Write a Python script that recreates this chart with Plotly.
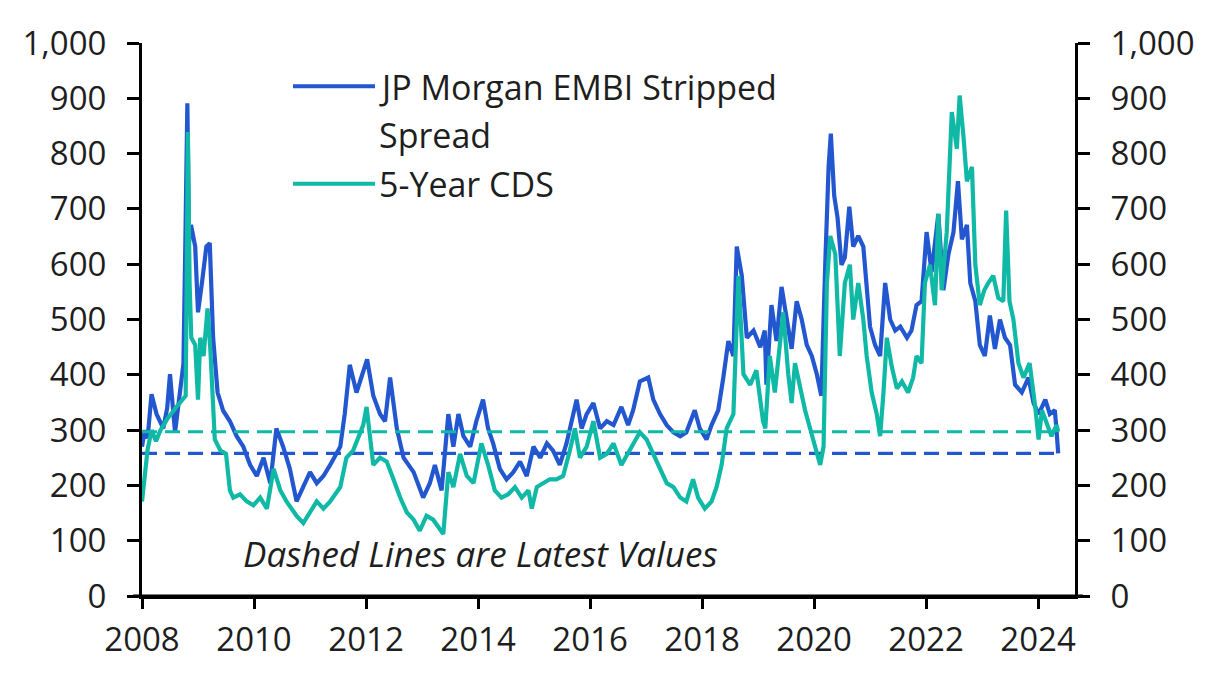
import plotly.graph_objects as go

# ---------------- data ----------------
embi_years = [
    2008.00, 2008.05, 2008.10, 2008.17, 2008.26, 2008.38, 2008.45, 2008.50, 2008.59, 2008.68,
    2008.74, 2008.77, 2008.81, 2008.84, 2008.875, 2008.95, 2009.00, 2009.07, 2009.15, 2009.21,
    2009.27, 2009.35, 2009.45, 2009.57, 2009.69, 2009.81, 2009.93, 2010.05, 2010.17, 2010.29,
    2010.40, 2010.52, 2010.64, 2010.76, 2010.88, 2011.00, 2011.12, 2011.24, 2011.36, 2011.54,
    2011.62, 2011.71, 2011.83, 2011.92, 2012.02, 2012.13, 2012.25, 2012.34, 2012.43, 2012.55,
    2012.67, 2012.85, 2013.02, 2013.14, 2013.23, 2013.35, 2013.47, 2013.56, 2013.65, 2013.74,
    2013.86, 2013.97, 2014.09, 2014.18, 2014.27, 2014.39, 2014.51, 2014.63, 2014.75, 2014.87,
    2014.99, 2015.11, 2015.23, 2015.34, 2015.46, 2015.58, 2015.67, 2015.76, 2015.85, 2015.94,
    2016.06, 2016.18, 2016.30, 2016.42, 2016.56, 2016.68, 2016.77, 2016.89, 2017.04, 2017.13,
    2017.25, 2017.37, 2017.49, 2017.61, 2017.72, 2017.87, 2017.96, 2018.08, 2018.17, 2018.29,
    2018.38, 2018.47, 2018.56, 2018.62, 2018.71, 2018.80, 2018.92, 2019.04, 2019.12, 2019.15,
    2019.24, 2019.33, 2019.42, 2019.51, 2019.60, 2019.69, 2019.78, 2019.87, 2019.96, 2020.05,
    2020.13, 2020.20, 2020.26, 2020.30, 2020.36, 2020.42, 2020.49, 2020.55, 2020.63, 2020.70,
    2020.79, 2020.88, 2020.94, 2021.00, 2021.09, 2021.18, 2021.27, 2021.36, 2021.45, 2021.54,
    2021.66, 2021.74, 2021.83, 2021.92, 2022.01, 2022.10, 2022.22, 2022.31, 2022.40, 2022.49,
    2022.57, 2022.64, 2022.73, 2022.79, 2022.88, 2022.96, 2023.05, 2023.14, 2023.23, 2023.32,
    2023.41, 2023.50, 2023.59, 2023.71, 2023.83, 2023.92, 2024.01, 2024.13, 2024.21, 2024.30,
    2024.33, 2024.36,
]
embi_spread = [
    270, 300, 285, 365, 329, 303, 340, 401, 296, 368,
    420, 612, 891, 640, 671, 632, 513, 566, 632, 638,
    467, 368, 335, 316, 289, 270, 237, 217, 250, 204,
    303, 270, 230, 171, 197, 224, 204, 217, 237, 270,
    329, 418, 368, 395, 428, 362, 329, 316, 395, 303,
    250, 224, 178, 204, 237, 191, 329, 270, 329, 289,
    270, 316, 355, 303, 276, 230, 211, 224, 243, 217,
    270, 250, 276, 263, 237, 276, 316, 355, 303, 329,
    349, 303, 316, 309, 342, 309, 336, 388, 395, 355,
    329, 309, 296, 289, 296, 336, 303, 283, 309, 336,
    395, 461, 434, 632, 579, 467, 480, 450, 480, 382,
    526, 461, 559, 500, 447, 533, 500, 454, 434, 401,
    362, 599, 776, 836, 724, 684, 599, 612, 704, 632,
    651, 632, 566, 487, 454, 434, 566, 500, 480, 487,
    467, 480, 526, 533, 658, 586, 691, 553, 618, 658,
    750, 645, 671, 566, 533, 454, 434, 507, 447, 500,
    467, 454, 382, 368, 395, 349, 329, 355, 329, 336,
    300, 258,
]

cds_years = [
    2008.00, 2008.05, 2008.10, 2008.17, 2008.25, 2008.33, 2008.45, 2008.60, 2008.78, 2008.80,
    2008.82, 2008.85, 2008.88, 2008.95, 2009.00, 2009.04, 2009.10, 2009.17, 2009.22, 2009.30,
    2009.40, 2009.50, 2009.57, 2009.63, 2009.75, 2009.87, 2009.99, 2010.11, 2010.23, 2010.35,
    2010.47, 2010.58, 2010.76, 2010.88, 2011.00, 2011.12, 2011.24, 2011.36, 2011.54, 2011.65,
    2011.77, 2011.95, 2012.01, 2012.13, 2012.25, 2012.37, 2012.49, 2012.61, 2012.73, 2012.85,
    2012.96, 2013.08, 2013.20, 2013.30, 2013.38, 2013.47, 2013.56, 2013.68, 2013.80, 2013.92,
    2014.06, 2014.18, 2014.30, 2014.42, 2014.54, 2014.66, 2014.78, 2014.90, 2014.96, 2015.05,
    2015.17, 2015.28, 2015.40, 2015.52, 2015.64, 2015.73, 2015.82, 2015.94, 2016.06, 2016.18,
    2016.30, 2016.42, 2016.56, 2016.71, 2016.89, 2017.01, 2017.13, 2017.25, 2017.37, 2017.49,
    2017.61, 2017.72, 2017.84, 2017.93, 2018.05, 2018.17, 2018.26, 2018.35, 2018.44, 2018.56,
    2018.65, 2018.74, 2018.86, 2018.97, 2019.09, 2019.13, 2019.21, 2019.30, 2019.39, 2019.45,
    2019.54, 2019.60, 2019.66, 2019.75, 2019.84, 2019.93, 2020.02, 2020.11, 2020.17, 2020.23,
    2020.29, 2020.38, 2020.46, 2020.55, 2020.64, 2020.70, 2020.79, 2020.88, 2020.94, 2021.03,
    2021.12, 2021.18, 2021.24, 2021.30, 2021.39, 2021.48, 2021.57, 2021.68, 2021.77, 2021.83,
    2021.92, 2021.98, 2022.07, 2022.16, 2022.22, 2022.28, 2022.37, 2022.46, 2022.55, 2022.60,
    2022.67, 2022.73, 2022.82, 2022.88, 2022.96, 2023.04, 2023.11, 2023.20, 2023.29, 2023.38,
    2023.43, 2023.49, 2023.56, 2023.65, 2023.74, 2023.85, 2023.95, 2024.01, 2024.07, 2024.15,
    2024.24, 2024.33, 2024.36,
]
cds_5y = [
    171, 215, 265, 300, 280, 300, 320, 340, 362, 600,
    839, 566, 467, 454, 355, 467, 434, 520, 447, 283,
    263, 257, 191, 178, 184, 171, 164, 178, 158, 230,
    191, 171, 145, 132, 151, 171, 158, 171, 197, 250,
    263, 309, 342, 237, 250, 243, 211, 178, 151, 138,
    118, 145, 138, 125, 112, 224, 197, 257, 217, 204,
    276, 237, 191, 178, 184, 197, 178, 191, 158, 197,
    204, 211, 211, 217, 263, 303, 250, 270, 316, 250,
    257, 276, 237, 263, 296, 283, 257, 230, 204, 197,
    178, 171, 211, 178, 158, 171, 197, 237, 303, 329,
    579, 401, 382, 408, 316, 303, 434, 368, 461, 513,
    401, 349, 421, 375, 336, 303, 270, 237, 270, 566,
    651, 618, 434, 566, 599, 500, 566, 500, 434, 368,
    329, 289, 368, 467, 414, 375, 388, 368, 395, 434,
    421, 566, 599, 526, 691, 553, 658, 875, 809, 905,
    829, 750, 776, 599, 526, 553, 566, 579, 539, 533,
    697, 533, 500, 421, 395, 421, 342, 283, 336, 316,
    289, 309, 297,
]

x_tick_values = [2008, 2010, 2012, 2014, 2016, 2018, 2020, 2022, 2024]
y_tick_values = [0, 100, 200, 300, 400, 500, 600, 700, 800, 900, 1000]
embi_label = ["JP Morgan EMBI Stripped", "Spread"]
cds_label = "5-Year CDS"
note_text = "Dashed Lines are Latest Values"

# ---------------- style ----------------
BLUE = "#2257CF"
TEAL = "#10B8A6"
FONT = "Open Sans"
TXT = "#1e1e1e"

fig = go.Figure()
fig.add_trace(go.Scatter(x=embi_years, y=embi_spread, mode="lines",
                         name=" ".join(embi_label), showlegend=False,
                         line=dict(color=BLUE, width=4.2)))
fig.add_trace(go.Scatter(x=cds_years, y=cds_5y, mode="lines", yaxis="y2",
                         name=cds_label, showlegend=False,
                         line=dict(color=TEAL, width=4.2)))
# latest-value dashed lines
fig.add_trace(go.Scatter(x=[embi_years[0], embi_years[-1]], y=[embi_spread[-1]] * 2,
                         mode="lines", showlegend=False,
                         line=dict(color=BLUE, width=3.2, dash="15px,8px")))
fig.add_trace(go.Scatter(x=[cds_years[0], cds_years[-1]], y=[cds_5y[-1]] * 2,
                         mode="lines", yaxis="y2", showlegend=False,
                         line=dict(color=TEAL, width=3.2, dash="15px,8px")))

tickfont = dict(family=FONT, size=33, color=TXT)
yaxis_common = dict(range=[0, 1000], tickvals=y_tick_values, tickformat=",",
                    ticks="outside", ticklen=12, tickwidth=3, tickcolor="black",
                    showline=True, linewidth=3, linecolor="black",
                    showgrid=False, zeroline=False, tickfont=tickfont,
                    ticklabelstandoff=14, fixedrange=True)

# target plot area on the page (page has an 8px body offset)
OFF = 8
PL, PR, PT, PB = 142, 1075, 34, 596
W, H = 1215, 675
L, T = PL - OFF, PT - OFF
R, B = W - (PR - OFF), H - (PB - OFF)
pw, ph = PR - PL, PB - PT


def px(xp):
    return (xp - PL) / pw


def py(yp):
    return (PB - yp) / ph


shapes = [
    # x-axis baseline runs slightly past both vertical axes
    dict(type="line", xref="paper", yref="paper", x0=px(133), x1=px(1083),
         y0=0, y1=0, line=dict(color="black", width=3), layer="above"),
    dict(type="line", xref="paper", yref="paper", x0=px(293), x1=px(375),
         y0=py(78), y1=py(78), line=dict(color=BLUE, width=4)),
    dict(type="line", xref="paper", yref="paper", x0=px(293), x1=px(375),
         y0=py(177), y1=py(177), line=dict(color=TEAL, width=4)),
]
legfont = dict(family=FONT, size=34, color=TXT)
annotations = [
    dict(text=embi_label[0], x=px(377), y=py(79), xref="paper", yref="paper",
         xanchor="left", yanchor="middle", showarrow=False, font=legfont),
    dict(text=embi_label[1], x=px(377), y=py(128), xref="paper", yref="paper",
         xanchor="left", yanchor="middle", showarrow=False, font=legfont),
    dict(text=cds_label, x=px(377), y=py(177), xref="paper", yref="paper",
         xanchor="left", yanchor="middle", showarrow=False, font=legfont),
    dict(text=note_text, x=px(480), y=py(553), xref="paper", yref="paper",
         xanchor="center", yanchor="middle", showarrow=False,
         font=dict(family=FONT, size=35, color=TXT, style="italic")),
]

fig.update_layout(
    width=W, height=H,
    margin=dict(l=L, r=R, t=T, b=B),
    paper_bgcolor="white", plot_bgcolor="white",
    showlegend=False,
    xaxis=dict(range=[2008, 2024.66], tickvals=x_tick_values, tickformat="d",
               ticks="outside", ticklen=10, tickwidth=3, tickcolor="black",
               showline=True, linewidth=3, linecolor="black",
               showgrid=False, zeroline=False, tickfont=tickfont,
               ticklabelstandoff=2, fixedrange=True),
    yaxis=dict(side="left", **yaxis_common),
    yaxis2=dict(side="right", overlaying="y", **yaxis_common),
    shapes=shapes,
    annotations=annotations,
)

fig.write_html("out.html", config={"displayModeBar": False})
